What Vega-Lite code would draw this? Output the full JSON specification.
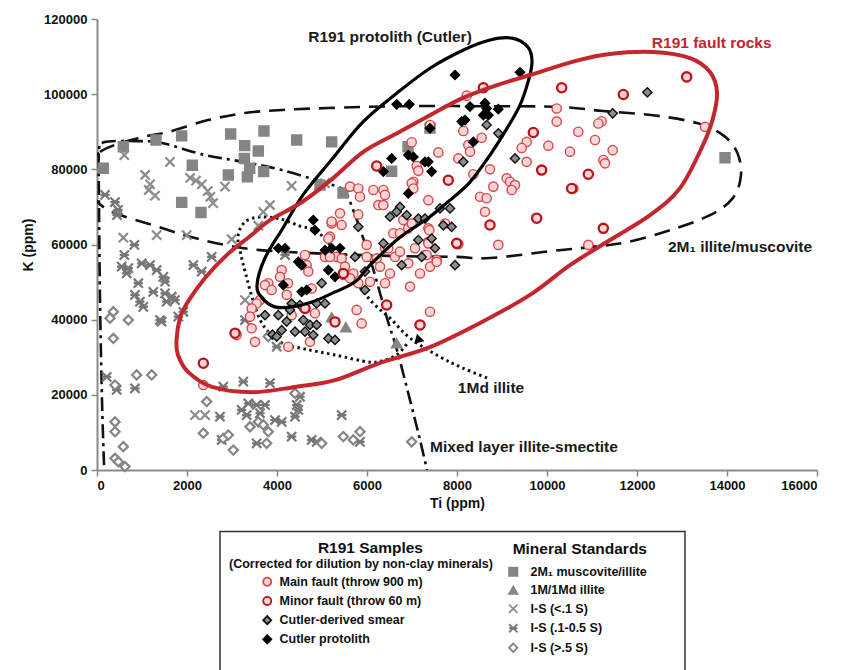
{
"$schema":"https://vega.github.io/schema/vega-lite/v6.json",
"width":720,"height":451,
"autosize":{"type":"none"},
"padding":{"left":97,"top":19,"right":36,"bottom":200},
"background":"white",
"config":{"font":"Liberation Sans","view":{"stroke":null},
"axis":{"grid":false,"domainColor":"#8a8a8a","domainWidth":2,"tickColor":"#8a8a8a","tickWidth":1.5,"tickSize":6,"labelFont":"Liberation Sans","labelFontSize":13,"labelFontWeight":"bold","labelColor":"#111","titleFont":"Liberation Sans","titleFontSize":14,"titleFontWeight":"bold","titleColor":"#111"},
"axisX":{"labelPadding":3,"titlePadding":4},"axisY":{"labelPadding":4,"titlePadding":8},
"legend":{"padding":0,"titleFont":"Liberation Sans","titleFontWeight":"bold","titleColor":"#111","labelFont":"Liberation Sans","labelFontSize":12.5,"labelFontWeight":"bold","labelColor":"#111","labelLimit":400,"titleLimit":400}},
"encoding":{
"x":{"field":"Ti","type":"quantitative","title":"Ti (ppm)","scale":{"domain":[0,16000],"nice":false},"axis":{"values":[0,2000,4000,6000,8000,10000,12000,14000,16000],"format":"d"}},
"y":{"field":"K","type":"quantitative","title":"K (ppm)","scale":{"domain":[0,120000],"nice":false},"axis":{"values":[0,20000,40000,60000,80000,100000,120000],"format":"d"}}
},
"datasets":{
"outl":[
{"o":"P","i":1,"Ti":9222,"K":114900},{"o":"P","i":2,"Ti":9578,"K":112500},{"o":"P","i":3,"Ti":9667,"K":108500},{"o":"P","i":4,"Ti":9578,"K":103200},{"o":"P","i":5,"Ti":9400,"K":97100},{"o":"P","i":6,"Ti":9111,"K":90900},{"o":"P","i":7,"Ti":8733,"K":83800},{"o":"P","i":8,"Ti":8289,"K":76600},{"o":"P","i":9,"Ti":7844,"K":71800},{"o":"P","i":10,"Ti":7356,"K":67000},{"o":"P","i":11,"Ti":6733,"K":61900},{"o":"P","i":12,"Ti":6067,"K":54500},{"o":"P","i":13,"Ti":5733,"K":50000},{"o":"P","i":14,"Ti":5222,"K":47000},{"o":"P","i":15,"Ti":4778,"K":44700},{"o":"P","i":16,"Ti":4333,"K":43400},{"o":"P","i":17,"Ti":3956,"K":43400},{"o":"P","i":18,"Ti":3667,"K":45800},{"o":"P","i":19,"Ti":3556,"K":49200},{"o":"P","i":20,"Ti":3733,"K":56400},{"o":"P","i":21,"Ti":4133,"K":64400},{"o":"P","i":22,"Ti":4578,"K":73200},{"o":"P","i":23,"Ti":5244,"K":83000},{"o":"P","i":24,"Ti":5911,"K":92600},{"o":"P","i":25,"Ti":6667,"K":100300},{"o":"P","i":26,"Ti":7400,"K":106900},{"o":"P","i":27,"Ti":8133,"K":111700},{"o":"P","i":28,"Ti":8733,"K":114400},
{"o":"R","i":1,"Ti":1767,"K":34600},{"o":"R","i":2,"Ti":1844,"K":40400},{"o":"R","i":3,"Ti":2000,"K":44400},{"o":"R","i":4,"Ti":2400,"K":51100},{"o":"R","i":5,"Ti":2911,"K":57500},{"o":"R","i":6,"Ti":3400,"K":62200},{"o":"R","i":7,"Ti":3844,"K":66500},{"o":"R","i":8,"Ti":4556,"K":71300},{"o":"R","i":9,"Ti":5222,"K":77400},{"o":"R","i":10,"Ti":5911,"K":84600},{"o":"R","i":11,"Ti":6667,"K":89600},{"o":"R","i":12,"Ti":7400,"K":94400},{"o":"R","i":13,"Ti":8133,"K":99000},{"o":"R","i":14,"Ti":8889,"K":102400},{"o":"R","i":15,"Ti":9622,"K":105100},{"o":"R","i":16,"Ti":10622,"K":108800},{"o":"R","i":17,"Ti":11400,"K":110700},{"o":"R","i":18,"Ti":12356,"K":111200},{"o":"R","i":19,"Ti":13178,"K":109600},{"o":"R","i":20,"Ti":13622,"K":105900},{"o":"R","i":21,"Ti":13778,"K":100500},{"o":"R","i":22,"Ti":13689,"K":93600},{"o":"R","i":23,"Ti":13467,"K":86500},{"o":"R","i":24,"Ti":12956,"K":75000},{"o":"R","i":25,"Ti":12289,"K":67800},{"o":"R","i":26,"Ti":11400,"K":61200},{"o":"R","i":27,"Ti":10511,"K":54500},{"o":"R","i":28,"Ti":9622,"K":46600},{"o":"R","i":29,"Ti":8511,"K":39100},{"o":"R","i":30,"Ti":7400,"K":32700},{"o":"R","i":31,"Ti":6289,"K":28500},{"o":"R","i":32,"Ti":5289,"K":23900},{"o":"R","i":33,"Ti":4400,"K":22100},{"o":"R","i":34,"Ti":3444,"K":20700},{"o":"R","i":35,"Ti":2556,"K":22100},{"o":"R","i":36,"Ti":2022,"K":26100},{"o":"R","i":37,"Ti":1800,"K":30600},
{"o":"D","i":1,"Ti":-267,"K":77700},{"o":"D","i":2,"Ti":67,"K":84600},{"o":"D","i":3,"Ti":911,"K":88300},{"o":"D","i":4,"Ti":1578,"K":89900},{"o":"D","i":5,"Ti":2467,"K":93100},{"o":"D","i":6,"Ti":3289,"K":95000},{"o":"D","i":7,"Ti":4111,"K":95800},{"o":"D","i":8,"Ti":5133,"K":96300},{"o":"D","i":9,"Ti":6733,"K":96800},{"o":"D","i":10,"Ti":8511,"K":96800},{"o":"D","i":11,"Ti":10289,"K":96600},{"o":"D","i":12,"Ti":11244,"K":95500},{"o":"D","i":13,"Ti":12356,"K":94400},{"o":"D","i":14,"Ti":13333,"K":92300},{"o":"D","i":15,"Ti":13911,"K":89100},{"o":"D","i":16,"Ti":14222,"K":84600},{"o":"D","i":17,"Ti":14311,"K":78500},{"o":"D","i":18,"Ti":14133,"K":72400},{"o":"D","i":19,"Ti":13622,"K":67800},{"o":"D","i":20,"Ti":12733,"K":63800},{"o":"D","i":21,"Ti":11778,"K":60600},{"o":"D","i":22,"Ti":10956,"K":59300},{"o":"D","i":23,"Ti":10133,"K":58300},{"o":"D","i":24,"Ti":8733,"K":56400},{"o":"D","i":25,"Ti":7978,"K":56700},{"o":"D","i":26,"Ti":6733,"K":56900},{"o":"D","i":27,"Ti":5178,"K":57500},{"o":"D","i":28,"Ti":3622,"K":58500},{"o":"D","i":29,"Ti":2844,"K":59900},{"o":"D","i":30,"Ti":2178,"K":61700},{"o":"D","i":31,"Ti":1444,"K":64400},{"o":"D","i":32,"Ti":178,"K":69700},
{"o":"T","i":1,"Ti":8667,"K":24500},{"o":"T","i":2,"Ti":8133,"K":27100},{"o":"T","i":3,"Ti":7622,"K":30100},{"o":"T","i":4,"Ti":6956,"K":35100},{"o":"T","i":5,"Ti":6511,"K":40400},{"o":"T","i":6,"Ti":6133,"K":44400},{"o":"T","i":7,"Ti":5778,"K":49700},{"o":"T","i":8,"Ti":5400,"K":56400},{"o":"T","i":9,"Ti":4911,"K":63300},{"o":"T","i":10,"Ti":4511,"K":64900},{"o":"T","i":11,"Ti":4067,"K":66800},{"o":"T","i":12,"Ti":3622,"K":67300},{"o":"T","i":13,"Ti":3289,"K":66000},{"o":"T","i":14,"Ti":3133,"K":62200},{"o":"T","i":15,"Ti":3200,"K":57200},{"o":"T","i":16,"Ti":3311,"K":51900},{"o":"T","i":17,"Ti":3467,"K":45200},{"o":"T","i":18,"Ti":3689,"K":38600},{"o":"T","i":19,"Ti":4111,"K":33800},{"o":"T","i":20,"Ti":4622,"K":32200},{"o":"T","i":21,"Ti":5289,"K":30600},{"o":"T","i":22,"Ti":6067,"K":28700},{"o":"T","i":23,"Ti":6400,"K":29300},{"o":"T","i":24,"Ti":6689,"K":30900},{"o":"T","i":25,"Ti":6911,"K":34000},
{"o":"X","i":1,"Ti":156,"K":1300},{"o":"X","i":2,"Ti":111,"K":18600},{"o":"X","i":3,"Ti":67,"K":45200},{"o":"X","i":4,"Ti":44,"K":71800},{"o":"X","i":5,"Ti":44,"K":84600},{"o":"X","i":6,"Ti":156,"K":87200},{"o":"X","i":7,"Ti":889,"K":87500},{"o":"X","i":8,"Ti":1444,"K":87000},{"o":"X","i":9,"Ti":2400,"K":83800},{"o":"X","i":10,"Ti":3289,"K":81900},{"o":"X","i":11,"Ti":4111,"K":79800},{"o":"X","i":12,"Ti":5000,"K":76600},{"o":"X","i":13,"Ti":5467,"K":74500},{"o":"X","i":14,"Ti":5711,"K":68600},{"o":"X","i":15,"Ti":6111,"K":54500},{"o":"X","i":16,"Ti":6444,"K":40400},{"o":"X","i":17,"Ti":6667,"K":31900},{"o":"X","i":18,"Ti":6956,"K":18600},{"o":"X","i":19,"Ti":7178,"K":8000},{"o":"X","i":20,"Ti":7333,"K":0}
],
"r191":[
{"s":"M","Ti":8215,"K":99600},{"s":"M","Ti":10215,"K":96200},{"s":"M","Ti":10215,"K":92700},{"s":"M","Ti":8141,"K":90200},{"s":"M","Ti":8548,"K":88400},{"s":"M","Ti":8252,"K":86500},{"s":"M","Ti":8289,"K":84700},{"s":"M","Ti":9548,"K":87300},{"s":"M","Ti":9437,"K":85700},{"s":"M","Ti":10030,"K":86300},{"s":"M","Ti":10511,"K":84700},{"s":"M","Ti":9548,"K":82000},{"s":"M","Ti":8733,"K":80000},{"s":"M","Ti":8363,"K":78700},{"s":"M","Ti":8030,"K":82900},{"s":"M","Ti":7585,"K":84500},{"s":"M","Ti":6993,"K":87200},{"s":"M","Ti":7104,"K":80900},{"s":"M","Ti":7141,"K":79600},{"s":"M","Ti":7030,"K":76700},{"s":"M","Ti":9104,"K":77600},{"s":"M","Ti":9178,"K":76700},{"s":"M","Ti":9289,"K":75800},{"s":"M","Ti":9215,"K":74500},{"s":"M","Ti":8807,"K":75400},{"s":"M","Ti":8511,"K":72700},{"s":"M","Ti":8659,"K":72300},{"s":"M","Ti":8622,"K":68700},{"s":"M","Ti":5622,"K":75400},{"s":"M","Ti":5807,"K":74900},{"s":"M","Ti":5844,"K":72700},{"s":"M","Ti":6141,"K":74500},{"s":"M","Ti":6363,"K":74500},{"s":"M","Ti":6400,"K":73200},{"s":"M","Ti":6252,"K":70500},{"s":"M","Ti":6363,"K":70500},{"s":"M","Ti":5807,"K":68000},{"s":"M","Ti":6993,"K":76300},{"s":"M","Ti":7030,"K":74900},{"s":"M","Ti":7363,"K":71800},{"s":"M","Ti":6918,"K":64300},{"s":"M","Ti":6993,"K":65600},{"s":"M","Ti":6807,"K":66500},{"s":"M","Ti":7363,"K":64300},{"s":"M","Ti":7733,"K":65600},{"s":"M","Ti":5215,"K":65600},{"s":"M","Ti":5437,"K":65200},{"s":"M","Ti":7400,"K":91800},
{"s":"M","Ti":11215,"K":92800},{"s":"M","Ti":11141,"K":92200},{"s":"M","Ti":10696,"K":90000},{"s":"M","Ti":11067,"K":87800},{"s":"M","Ti":11459,"K":85100},{"s":"M","Ti":11252,"K":82500},{"s":"M","Ti":11289,"K":81600},{"s":"M","Ti":10585,"K":74900},{"s":"M","Ti":13511,"K":91300},{"s":"M","Ti":10918,"K":59900},{"s":"M","Ti":8918,"K":59900},
{"s":"M","Ti":6585,"K":63000},{"s":"M","Ti":6733,"K":63000},{"s":"M","Ti":6400,"K":59000},{"s":"M","Ti":7385,"K":63800},{"s":"M","Ti":7363,"K":60700},{"s":"M","Ti":7067,"K":59000},{"s":"M","Ti":7289,"K":57200},{"s":"M","Ti":7548,"K":55900},{"s":"M","Ti":7400,"K":54100},{"s":"M","Ti":6622,"K":56700},{"s":"M","Ti":5993,"K":56700},{"s":"M","Ti":6215,"K":56300},
{"s":"M","Ti":8030,"K":60100},{"s":"M","Ti":7400,"K":42100},{"s":"M","Ti":5770,"K":42600},{"s":"M","Ti":5881,"K":39000},{"s":"M","Ti":5326,"K":56700},{"s":"M","Ti":5696,"K":52300},{"s":"M","Ti":5807,"K":49700},{"s":"M","Ti":6067,"K":50100},{"s":"M","Ti":6289,"K":54100},{"s":"M","Ti":6400,"K":49700},{"s":"M","Ti":6511,"K":52300},{"s":"M","Ti":6918,"K":55000},{"s":"M","Ti":6956,"K":48800},{"s":"M","Ti":7178,"K":52300},{"s":"M","Ti":7326,"K":57200},{"s":"M","Ti":7548,"K":55400},{"s":"M","Ti":7363,"K":60300},{"s":"M","Ti":5993,"K":59900},{"s":"M","Ti":6474,"K":59000},{"s":"M","Ti":6733,"K":58100},
{"s":"M","Ti":5400,"K":68300},{"s":"M","Ti":5215,"K":66100},{"s":"M","Ti":5178,"K":62100},{"s":"M","Ti":5141,"K":61600},{"s":"M","Ti":4622,"K":57200},{"s":"M","Ti":4659,"K":54500},{"s":"M","Ti":4696,"K":52800},{"s":"M","Ti":5067,"K":56700},{"s":"M","Ti":5178,"K":56700},{"s":"M","Ti":5437,"K":56300},{"s":"M","Ti":5511,"K":54100},{"s":"M","Ti":5474,"K":51900},{"s":"M","Ti":5622,"K":51000},{"s":"M","Ti":4104,"K":53200},{"s":"M","Ti":4067,"K":51400},{"s":"M","Ti":4244,"K":49700},{"s":"M","Ti":3807,"K":49700},{"s":"M","Ti":3733,"K":49200},{"s":"M","Ti":3881,"K":47900},{"s":"M","Ti":3622,"K":45200},{"s":"M","Ti":3548,"K":44300},{"s":"M","Ti":3437,"K":43000},{"s":"M","Ti":4215,"K":46600},{"s":"M","Ti":4770,"K":48300},{"s":"M","Ti":4844,"K":41700},{"s":"M","Ti":4326,"K":41200},{"s":"M","Ti":3400,"K":40800},{"s":"M","Ti":3437,"K":37700},{"s":"M","Ti":3511,"K":34100},{"s":"M","Ti":4733,"K":34100},{"s":"M","Ti":2363,"K":22600},{"s":"M","Ti":3104,"K":35900},{"s":"M","Ti":4252,"K":32800},
{"s":"m","Ti":8585,"K":101700},{"s":"m","Ti":10326,"K":101700},{"s":"m","Ti":9696,"K":89800},{"s":"m","Ti":11696,"K":99900},{"s":"m","Ti":13104,"K":104600},{"s":"m","Ti":10918,"K":78700},{"s":"m","Ti":9881,"K":79800},{"s":"m","Ti":8733,"K":65200},{"s":"m","Ti":9770,"K":67000},{"s":"m","Ti":11252,"K":64300},{"s":"m","Ti":7993,"K":60300},{"s":"m","Ti":6437,"K":43900},{"s":"m","Ti":7178,"K":38600},{"s":"m","Ti":5289,"K":39400},{"s":"m","Ti":4622,"K":43000},{"s":"m","Ti":3067,"K":36400},{"s":"m","Ti":2363,"K":28400},{"s":"m","Ti":5474,"K":52300},{"s":"m","Ti":7807,"K":77100},{"s":"m","Ti":6215,"K":80900},{"s":"m","Ti":10548,"K":74900},
{"s":"S","Ti":12230,"K":100500},{"s":"S","Ti":11460,"K":94900},{"s":"S","Ti":8659,"K":91800},{"s":"S","Ti":8918,"K":89600},{"s":"S","Ti":9289,"K":82900},{"s":"S","Ti":8141,"K":82000},{"s":"S","Ti":6733,"K":70000},{"s":"S","Ti":6881,"K":67800},{"s":"S","Ti":7141,"K":66900},{"s":"S","Ti":7289,"K":66900},{"s":"S","Ti":7622,"K":69600},{"s":"S","Ti":7844,"K":69600},{"s":"S","Ti":7881,"K":64700},{"s":"S","Ti":5807,"K":64700},{"s":"S","Ti":6511,"K":67400},{"s":"S","Ti":6659,"K":68700},{"s":"S","Ti":7696,"K":65100},{"s":"S","Ti":7141,"K":61200},{"s":"S","Ti":7437,"K":61600},{"s":"S","Ti":7511,"K":59000},{"s":"S","Ti":7215,"K":56700},{"s":"S","Ti":6770,"K":54500},{"s":"S","Ti":7956,"K":54500},{"s":"S","Ti":6363,"K":60300},{"s":"S","Ti":5956,"K":52800},{"s":"S","Ti":5733,"K":56700},{"s":"S","Ti":4326,"K":44300},{"s":"S","Ti":4511,"K":43900},{"s":"S","Ti":4882,"K":44300},{"s":"S","Ti":5067,"K":44300},{"s":"S","Ti":4993,"K":49700},{"s":"S","Ti":4030,"K":41200},{"s":"S","Ti":4215,"K":39500},{"s":"S","Ti":4585,"K":39900},{"s":"S","Ti":4733,"K":38600},{"s":"S","Ti":4882,"K":38600},{"s":"S","Ti":4400,"K":36800},{"s":"S","Ti":4807,"K":35900},{"s":"S","Ti":5141,"K":35000},{"s":"S","Ti":4289,"K":42600},{"s":"S","Ti":3900,"K":36000},{"s":"S","Ti":4104,"K":37200},{"s":"S","Ti":3993,"K":35500},{"s":"S","Ti":4622,"K":36800},{"s":"S","Ti":3733,"K":41200},{"s":"S","Ti":5289,"K":34600},{"s":"S","Ti":5956,"K":47900},
{"s":"P","Ti":7956,"K":105100},{"s":"P","Ti":9400,"K":105800},{"s":"P","Ti":6659,"K":97300},{"s":"P","Ti":6941,"K":97300},{"s":"P","Ti":8289,"K":96700},{"s":"P","Ti":8622,"K":97600},{"s":"P","Ti":8659,"K":96200},{"s":"P","Ti":8918,"K":96000},{"s":"P","Ti":8585,"K":94400},{"s":"P","Ti":8696,"K":94400},{"s":"P","Ti":8104,"K":92700},{"s":"P","Ti":8178,"K":93100},{"s":"P","Ti":8363,"K":87300},{"s":"P","Ti":6548,"K":82900},{"s":"P","Ti":6363,"K":79400},{"s":"P","Ti":6918,"K":83800},{"s":"P","Ti":7030,"K":83300},{"s":"P","Ti":7289,"K":82000},{"s":"P","Ti":7363,"K":82000},{"s":"P","Ti":7437,"K":79400},{"s":"P","Ti":6918,"K":73600},{"s":"P","Ti":7400,"K":90900},{"s":"P","Ti":4844,"K":63800},{"s":"P","Ti":4178,"K":59000},{"s":"P","Ti":4030,"K":59000},{"s":"P","Ti":4474,"K":55400},{"s":"P","Ti":4548,"K":54500},{"s":"P","Ti":5067,"K":58500},{"s":"P","Ti":5215,"K":59000},{"s":"P","Ti":5400,"K":59000},{"s":"P","Ti":4659,"K":47900},{"s":"P","Ti":4548,"K":47400},{"s":"P","Ti":4141,"K":49200},{"s":"P","Ti":5289,"K":51400},{"s":"P","Ti":5141,"K":53200},{"s":"P","Ti":4807,"K":66500}
],
"std":[
{"t":"Q","Ti":585,"K":86000},{"t":"Q","Ti":1311,"K":87800},{"t":"Q","Ti":1882,"K":88900},{"t":"Q","Ti":2970,"K":89400},{"t":"Q","Ti":3711,"K":90200},{"t":"Q","Ti":3282,"K":86300},{"t":"Q","Ti":3585,"K":84900},{"t":"Q","Ti":4437,"K":87800},{"t":"Q","Ti":5215,"K":87300},{"t":"Q","Ti":2118,"K":81100},{"t":"Q","Ti":3393,"K":80300},{"t":"Q","Ti":3704,"K":79400},{"t":"Q","Ti":2918,"K":78500},{"t":"Q","Ti":3341,"K":78000},{"t":"Q","Ti":3274,"K":82900},{"t":"Q","Ti":141,"K":80300},{"t":"Q","Ti":1882,"K":71200},{"t":"Q","Ti":2311,"K":68500},{"t":"Q","Ti":4956,"K":75800},{"t":"Q","Ti":13956,"K":83100},{"t":"Q","Ti":7400,"K":91000},{"t":"Q","Ti":6911,"K":86000},{"t":"Q","Ti":6548,"K":79500},{"t":"Q","Ti":5467,"K":73700},
{"t":"T","Ti":5215,"K":40600},{"t":"T","Ti":5530,"K":37950},{"t":"T","Ti":6659,"K":33700},
{"t":"X","Ti":607,"K":83800},{"t":"X","Ti":1622,"K":82000},{"t":"X","Ti":1070,"K":78500},{"t":"X","Ti":1180,"K":76000},{"t":"X","Ti":1290,"K":73000},{"t":"X","Ti":1150,"K":74500},{"t":"X","Ti":2070,"K":77700},{"t":"X","Ti":2200,"K":77000},{"t":"X","Ti":2330,"K":76000},{"t":"X","Ti":2460,"K":74200},{"t":"X","Ti":2520,"K":72700},{"t":"X","Ti":2580,"K":71000},{"t":"X","Ti":2844,"K":75400},{"t":"X","Ti":4326,"K":75600},{"t":"X","Ti":5067,"K":76300},{"t":"X","Ti":1326,"K":62500},{"t":"X","Ti":1993,"K":62500},{"t":"X","Ti":2993,"K":61400},{"t":"X","Ti":3585,"K":65000},{"t":"X","Ti":585,"K":61800},{"t":"X","Ti":3289,"K":45200},{"t":"X","Ti":2178,"K":14600},{"t":"X","Ti":2400,"K":14600},{"t":"X","Ti":3844,"K":70500},{"t":"X","Ti":3696,"K":68700},
{"t":"A","Ti":178,"K":73200},{"t":"A","Ti":400,"K":71300},{"t":"A","Ti":467,"K":69200},{"t":"A","Ti":444,"K":67800},{"t":"A","Ti":830,"K":59900},{"t":"A","Ti":607,"K":57200},{"t":"A","Ti":548,"K":54100},{"t":"A","Ti":659,"K":52300},{"t":"A","Ti":696,"K":53700},{"t":"A","Ti":993,"K":55000},{"t":"A","Ti":1178,"K":54500},{"t":"A","Ti":1326,"K":53200},{"t":"A","Ti":1474,"K":51400},{"t":"A","Ti":1511,"K":50100},{"t":"A","Ti":918,"K":49700},{"t":"A","Ti":844,"K":46600},{"t":"A","Ti":955,"K":44800},{"t":"A","Ti":1029,"K":43400},{"t":"A","Ti":1251,"K":47400},{"t":"A","Ti":1511,"K":47000},{"t":"A","Ti":1548,"K":44800},{"t":"A","Ti":1659,"K":46100},{"t":"A","Ti":1733,"K":45200},{"t":"A","Ti":1400,"K":39900},{"t":"A","Ti":1437,"K":39500},{"t":"A","Ti":1807,"K":40800},{"t":"A","Ti":1918,"K":42100},{"t":"A","Ti":2548,"K":56700},{"t":"A","Ti":2141,"K":54500},{"t":"A","Ti":2326,"K":52800},{"t":"A","Ti":3289,"K":39900},{"t":"A","Ti":3993,"K":32800},{"t":"A","Ti":4178,"K":57200},{"t":"A","Ti":215,"K":24800},{"t":"A","Ti":437,"K":21300},{"t":"A","Ti":844,"K":21700},{"t":"A","Ti":2807,"K":22200},{"t":"A","Ti":3252,"K":23500},{"t":"A","Ti":3844,"K":23100},{"t":"A","Ti":3363,"K":17700},{"t":"A","Ti":3548,"K":17300},{"t":"A","Ti":3733,"K":17300},{"t":"A","Ti":3622,"K":15100},{"t":"A","Ti":3215,"K":16000},{"t":"A","Ti":3326,"K":14600},{"t":"A","Ti":2733,"K":14200},{"t":"A","Ti":3956,"K":13300},{"t":"A","Ti":4104,"K":12800},{"t":"A","Ti":4437,"K":17300},{"t":"A","Ti":4474,"K":16000},{"t":"A","Ti":4400,"K":14200},{"t":"A","Ti":4511,"K":19500},{"t":"A","Ti":4326,"K":8900},{"t":"A","Ti":4771,"K":8000},{"t":"A","Ti":4882,"K":7500},{"t":"A","Ti":3548,"K":7100},{"t":"A","Ti":2770,"K":8000},{"t":"A","Ti":5437,"K":14600},{"t":"A","Ti":5844,"K":7500},
{"t":"D","Ti":363,"K":42100},{"t":"D","Ti":289,"K":40400},{"t":"D","Ti":696,"K":39900},{"t":"D","Ti":363,"K":35000},{"t":"D","Ti":881,"K":25300},{"t":"D","Ti":1215,"K":25300},{"t":"D","Ti":400,"K":22600},{"t":"D","Ti":2437,"K":18200},{"t":"D","Ti":3400,"K":11500},{"t":"D","Ti":3585,"K":12800},{"t":"D","Ti":3807,"K":10200},{"t":"D","Ti":3696,"K":12000},{"t":"D","Ti":2363,"K":9800},{"t":"D","Ti":2807,"K":8400},{"t":"D","Ti":2918,"K":9300},{"t":"D","Ti":3030,"K":5300},{"t":"D","Ti":3770,"K":7100},{"t":"D","Ti":4400,"K":20400},{"t":"D","Ti":4993,"K":7100},{"t":"D","Ti":400,"K":12800},{"t":"D","Ti":400,"K":10200},{"t":"D","Ti":585,"K":6200},{"t":"D","Ti":400,"K":3100},{"t":"D","Ti":474,"K":2200},{"t":"D","Ti":622,"K":900},{"t":"D","Ti":3807,"K":35500},{"t":"D","Ti":5474,"K":8900},{"t":"D","Ti":5696,"K":8000},{"t":"D","Ti":5844,"K":10200},{"t":"D","Ti":6993,"K":7500}
]
},
"layer":[
{"data":{"name":"outl"},"transform":[{"filter":"datum.o==='D'"}],"mark":{"type":"line","interpolate":"cardinal-closed","stroke":"#111","strokeWidth":2.6,"strokeDash":[16,9],"clip":true},"encoding":{"order":{"field":"i","type":"quantitative"}}},
{"data":{"values":[{}]},"mark":{"type":"rule","stroke":"#8a8a8a","strokeWidth":2},"encoding":{"x":{"datum":0,"type":"quantitative"},"x2":{"datum":16000},"y":{"datum":120000,"type":"quantitative"}}},
{"data":{"name":"outl"},"transform":[{"filter":"datum.o==='X'"}],"mark":{"type":"line","interpolate":"cardinal","stroke":"#111","strokeWidth":2.6,"strokeDash":[14,5,3,5],"clip":true},"encoding":{"order":{"field":"i","type":"quantitative"}}},
{"data":{"name":"outl"},"transform":[{"filter":"datum.o==='T'"}],"mark":{"type":"line","interpolate":"cardinal","stroke":"#111","strokeWidth":3,"strokeDash":[2.5,3.5]},"encoding":{"order":{"field":"i","type":"quantitative"}}},
{"data":{"name":"std"},"mark":{"type":"point","size":85,"opacity":1,"strokeWidth":2.2},"encoding":{
"shape":{"field":"t","type":"nominal","scale":{"domain":["Q","T","X","A","D"],"range":["square","triangle-up","M-1,-1L1,1M-1,1L1,-1","M-1,-1L1,1M-1,1L1,-1M-1,0L1,0","diamond"]},"legend":{"title":"Mineral Standards","titleAnchor":"end","orient":"none","legendX":410,"legendY":523,"titleFontSize":15.5,"titlePadding":8,"labelOffset":11,"rowPadding":2.5,"symbolSize":70,"symbolStrokeWidth":1.8,"labelExpr":"datum.label==='Q'?'2M₁ muscovite/illite':datum.label==='T'?'1M/1Md illite':datum.label==='X'?'I-S (<.1 S)':datum.label==='A'?'I-S (.1-0.5 S)':'I-S (>.5 S)'"}},
"fill":{"field":"t","type":"nominal","scale":{"domain":["Q","T","X","A","D"],"range":["#858585","#858585","transparent","transparent","#ffffff"]},"legend":{"title":"Mineral Standards","titleAnchor":"end","orient":"none","legendX":410,"legendY":523,"titleFontSize":15.5,"titlePadding":8,"labelOffset":11,"rowPadding":2.5,"symbolSize":70,"symbolStrokeWidth":1.8,"labelExpr":"datum.label==='Q'?'2M₁ muscovite/illite':datum.label==='T'?'1M/1Md illite':datum.label==='X'?'I-S (<.1 S)':datum.label==='A'?'I-S (.1-0.5 S)':'I-S (>.5 S)'"}},
"stroke":{"field":"t","type":"nominal","scale":{"domain":["Q","T","X","A","D"],"range":["#858585","#858585","#8c8c8c","#767676","#858585"]},"legend":{"title":"Mineral Standards","titleAnchor":"end","orient":"none","legendX":410,"legendY":523,"titleFontSize":15.5,"titlePadding":8,"labelOffset":11,"rowPadding":2.5,"symbolSize":70,"symbolStrokeWidth":1.8,"labelExpr":"datum.label==='Q'?'2M₁ muscovite/illite':datum.label==='T'?'1M/1Md illite':datum.label==='X'?'I-S (<.1 S)':datum.label==='A'?'I-S (.1-0.5 S)':'I-S (>.5 S)'"}}}},
{"data":{"name":"r191"},"layer":[
{"transform":[{"filter":"datum.s!=='m'"}],"mark":{"type":"point","size":85,"opacity":1,"strokeWidth":1.4},"encoding":{
"shape":{"field":"s","type":"nominal","scale":{"domain":["M","m","S","P"],"range":["circle","circle","diamond","diamond"]},"legend":{"title":"R191 Samples","titleAnchor":"end","orient":"none","legendX":164,"legendY":522,"titleFontSize":15.5,"titlePadding":19,"labelOffset":6,"rowPadding":3.2,"symbolSize":65,"symbolStrokeWidth":1.8,"labelExpr":"datum.label==='M'?'Main fault (throw 900 m)':datum.label==='m'?'Minor fault (throw 60 m)':datum.label==='S'?'Cutler-derived smear':'Cutler protolith'"}},
"fill":{"field":"s","type":"nominal","scale":{"domain":["M","m","S","P"],"range":["#f6d6d6","#f6d6d6","#8c8c8c","#000000"]},"legend":{"title":"R191 Samples","titleAnchor":"end","orient":"none","legendX":164,"legendY":522,"titleFontSize":15.5,"titlePadding":19,"labelOffset":6,"rowPadding":3.2,"symbolSize":65,"symbolStrokeWidth":1.8,"labelExpr":"datum.label==='M'?'Main fault (throw 900 m)':datum.label==='m'?'Minor fault (throw 60 m)':datum.label==='S'?'Cutler-derived smear':'Cutler protolith'"}},
"stroke":{"field":"s","type":"nominal","scale":{"domain":["M","m","S","P"],"range":["#d8474c","#b8141c","#111111","#000000"]},"legend":{"title":"R191 Samples","titleAnchor":"end","orient":"none","legendX":164,"legendY":522,"titleFontSize":15.5,"titlePadding":19,"labelOffset":6,"rowPadding":3.2,"symbolSize":65,"symbolStrokeWidth":1.8,"labelExpr":"datum.label==='M'?'Main fault (throw 900 m)':datum.label==='m'?'Minor fault (throw 60 m)':datum.label==='S'?'Cutler-derived smear':'Cutler protolith'"}}}},
{"transform":[{"filter":"datum.s==='m'"}],"mark":{"type":"point","size":85,"opacity":1,"strokeWidth":2.3},"encoding":{
"shape":{"field":"s","type":"nominal","scale":{"domain":["M","m","S","P"],"range":["circle","circle","diamond","diamond"]}},
"fill":{"field":"s","type":"nominal","scale":{"domain":["M","m","S","P"],"range":["#f6d6d6","#f6d6d6","#8c8c8c","#000000"]}},
"stroke":{"field":"s","type":"nominal","scale":{"domain":["M","m","S","P"],"range":["#d8474c","#b8141c","#111111","#000000"]}}}}
]},
{"data":{"name":"outl"},"transform":[{"filter":"datum.o==='P'"}],"mark":{"type":"line","interpolate":"cardinal-closed","stroke":"#000","strokeWidth":3.2},"encoding":{"order":{"field":"i","type":"quantitative"}}},
{"data":{"name":"outl"},"transform":[{"filter":"datum.o==='R'"}],"mark":{"type":"line","interpolate":"cardinal-closed","stroke":"#c4262e","strokeWidth":4},"encoding":{"order":{"field":"i","type":"quantitative"}}},
{"data":{"values":[{"Ti":7178,"K":34600}]},"mark":{"type":"point","shape":"triangle-right","filled":true,"size":110,"angle":15,"opacity":1,"strokeWidth":0},"encoding":{
"fill":{"field":"K","type":"quantitative","scale":{"domain":[0,1],"range":["#000000","#000000"]},"legend":{"orient":"none","legendX":132,"legendY":538.6,"direction":"horizontal","title":"(Corrected for dilution by non-clay minerals)","titleFontSize":12.5,"gradientLength":1,"gradientThickness":0.01,"gradientStrokeWidth":0,"labelExpr":"''"}},
"stroke":{"field":"K","type":"quantitative","scale":{"domain":[0,120000],"range":["rgba(0,0,0,0)","rgba(0,0,0,0)"]},"legend":{"orient":"none","legendX":123,"legendY":512.5,"direction":"horizontal","gradientLength":465,"gradientThickness":170,"gradientStrokeColor":"#333","gradientStrokeWidth":1.5,"title":null,"labelExpr":"''"}}}},
{"data":{"values":[{"t":"R191 protolith (Cutler)","Ti":6511,"K":115200},{"t":"R191 fault rocks","Ti":13660,"K":113500},{"t":"2M₁ illite/muscovite","Ti":14289,"K":59400},{"t":"1Md illite","Ti":8756,"K":21700},{"t":"Mixed layer illite-smectite","Ti":9489,"K":6200}]},"mark":{"type":"text","font":"Liberation Sans","fontWeight":"bold","fontSize":15.5,"align":"center","baseline":"middle"},"encoding":{"text":{"field":"t"},"color":{"condition":{"test":"datum.t==='R191 fault rocks'","value":"#c1272d"},"value":"#1a1a1a"}}}
],
"resolve":{"scale":{"shape":"independent","fill":"independent","stroke":"independent"}}
}
